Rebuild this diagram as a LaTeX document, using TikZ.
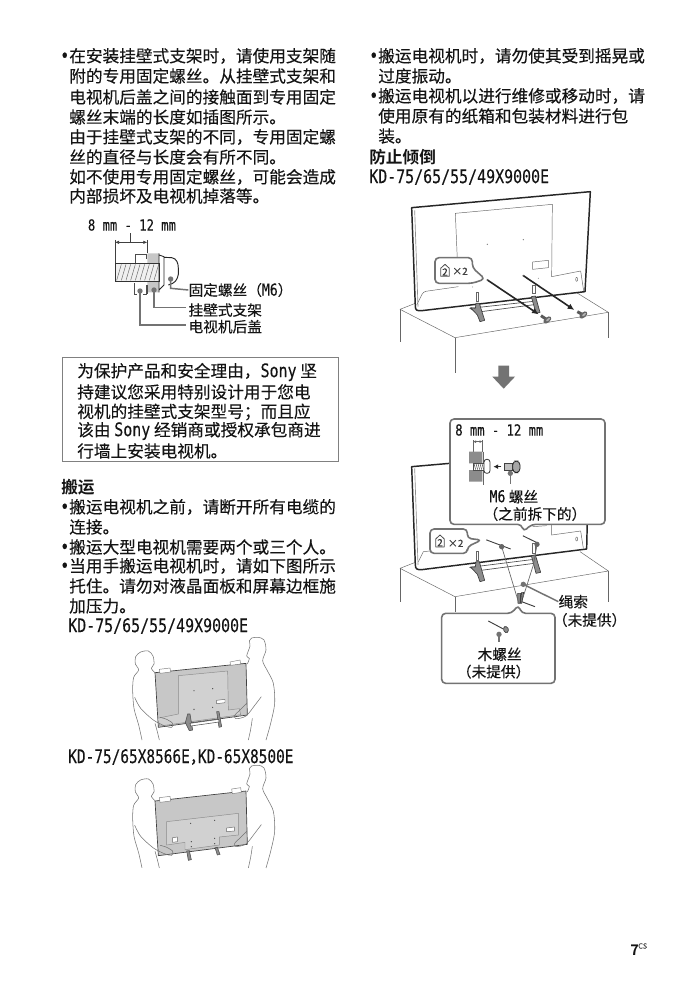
\documentclass[tikz,border=0pt]{standalone}
\usepackage{fontspec}
\setmainfont[FakeBold=0.2,BoldFont={Noto Sans CJK SC Bold},BoldFeatures={FakeBold=0}]{Noto Sans CJK SC}
\newfontfamily\latfont[FakeStretch=0.8,Scale=1.12,FakeBold=0.2]{DejaVu Sans Mono}
\newcommand{\lat}[1]{{\latfont #1}}
\newcommand{\zc}{\char"FF0C\relax}
\newcommand{\zs}{\char"FF1B\relax}
\newcommand{\zl}{\char"FF08\relax}
\newcommand{\zr}{\char"FF09\relax}
\definecolor{ink}{gray}{0.08}
\definecolor{midg}{gray}{0.45}
\definecolor{panelg}{gray}{0.78}
\usetikzlibrary{arrows.meta}
\tikzset{
  body/.style={anchor=west,inner sep=0pt,text=ink,font=\fontsize{12.5}{12.5}\selectfont},
  headline/.style={anchor=west,inner sep=0pt,text=ink,font=\fontsize{12.5}{12.5}\selectfont\bfseries},
  lab/.style={anchor=west,inner sep=0pt,text=ink,font=\fontsize{11}{11}\selectfont},
  dimlab/.style={anchor=west,inner sep=0pt,text=ink,font=\fontsize{10.2}{10.2}\selectfont},
  zoomed/.style={x=0.25pt,y=-0.25pt},
  leader/.style={draw=midg,line width=1.1pt},
  thin line/.style={draw=black!75,line width=0.4pt},
  callout/.style={draw=midg,line width=1.2pt,fill=white,line join=round},
  bigarrow/.style={draw=black!85,line width=1.2pt,-{Latex[length=5pt,width=4.5pt]}},
  hair/.style={draw=black!60,line width=0.35pt},
  body line/.style={draw=black!55,line width=0.4pt,smooth},
  metal/.style={draw=black!75,fill=black!45,line width=.5pt,line join=round},
}
% persons carrying the set, coordinates of the 3x crop
\newcommand{\carriers}{%
  \draw[body line] plot coordinates {(66,300)(56,255)(42,205)(38,150)(41,112)(56,90)(46,72)(47,50)(62,36)(85,33)(99,48)(102,72)(94,85)(105,98)};
  \draw[body line] plot coordinates {(44,172)(62,205)(100,240)(135,258)(155,262)(158,250)(140,238)(120,232)};
  \draw[body line] plot coordinates {(105,250)(112,275)(118,300)};
  \draw[body line] plot coordinates {(438,300)(452,250)(464,190)(460,130)(442,92)(428,62)(438,30)(432,0)(415,-8)(395,-6)(388,2)(390,18)(380,48)(388,55)(382,72)};
  \draw[body line] plot coordinates {(424,170)(405,195)(378,228)(348,236)(344,226)(358,212)(380,190)};
  \draw[body line] plot coordinates {(397,235)(392,268)(385,300)};
}
\newcommand{\housemark}[2]{% icon with 2 inside
  \draw[draw=black!70,line width=.6pt,line join=round] (#1-13,#2+16)--(#1-13,#2-8)--(#1,#2-20)--(#1+13,#2-8)--(#1+13,#2+16)--cycle;
  \node[inner sep=0pt,text=black!80,font=\fontsize{7.5}{7.5}\selectfont] (icon#1) at (#1,#2+3) {2};
}
% screw: shaft start, head centre
\newcommand{\screwat}[4]{%
  \draw[draw=black!65,line width=2.2pt] (#1,#2)--(#3,#4);
  \fill[black!60] (#3,#4) ellipse [x radius=8,y radius=14,rotate=-50];
  \fill[black!30] (#3+2,#4-1) ellipse [x radius=3,y radius=7,rotate=-50];
}
\begin{document}
\begin{tikzpicture}[x=0.75pt,y=-0.75pt]
\useasboundingbox (0,0) rectangle (699,994);
\fill[white] (0,0) rectangle (699,994);
% left column text
\node[body] (t1) at (60,56) {\lat{•}在安装挂壁式支架时\zc 请使用支架随};
\node[body] (t2) at (69,76) {附的专用固定螺丝。从挂壁式支架和};
\node[body] (t3) at (69,97) {电视机后盖之间的接触面到专用固定};
\node[body] (t4) at (69,117) {螺丝末端的长度如插图所示。};
\node[body] (t5) at (69,137) {由于挂壁式支架的不同\zc 专用固定螺};
\node[body] (t6) at (69,157) {丝的直径与长度会有所不同。};
\node[body] (t7) at (69,177) {如不使用专用固定螺丝\zc 可能会造成};
\node[body] (t8) at (69,196) {内部损坏及电视机掉落等。};
% notice box
\draw[draw=black!50,line width=.7pt] (62,357) rectangle (338,461);
\node[body] (b1) at (77,372) {为保护产品和安全理由\zc\lat{Sony} 坚};
\node[body] (b2) at (77,392) {持建议您采用特别设计用于您电};
\node[body] (b3) at (77,412) {视机的挂壁式支架型号\zs 而且应};
\node[body] (b4) at (77,431) {该由 \lat{Sony} 经销商或授权承包商进};
\node[body] (b5) at (77,451) {行墙上安装电视机。};
% transport
\node[headline] (h1) at (61,487) {搬运};
\node[body] (m1) at (60,507) {\lat{•}搬运电视机之前\zc 请断开所有电缆的};
\node[body] (m2) at (69,527) {连接。};
\node[body] (m3) at (60,547) {\lat{•}搬运大型电视机需要两个或三个人。};
\node[body] (m4) at (60,566) {\lat{•}当用手搬运电视机时\zc 请如下图所示};
\node[body] (m5) at (69,586) {托住。请勿对液晶面板和屏幕边框施};
\node[body] (m6) at (69,606) {加压力。};
\node[body] (m7) at (68,626) {\lat{KD-75/65/55/49X9000E}};
\node[body,xscale=0.966,transform shape] (m8) at (68,757) {\lat{KD-75/65X8566E}\zc\kern-6.2pt\lat{KD-65X8500E}};
% right column text
\node[body] (r1) at (369,56) {\lat{•}搬运电视机时\zc 请勿使其受到摇晃或};
\node[body] (r2) at (378,76) {过度振动。};
\node[body] (r3) at (369,96) {\lat{•}搬运电视机以进行维修或移动时\zc 请};
\node[body] (r4) at (378,116) {使用原有的纸箱和包装材料进行包};
\node[body] (r5) at (378,136) {装。};
\node[headline] (r6) at (369,157) {防止倾倒};
\node[body] (r7) at (369,177) {\lat{KD-75/65/55/49X9000E}};
% page number
\node[anchor=west,inner sep=0pt,text=ink,font=\fontsize{11}{11}\selectfont\bfseries] (pg) at (630,950) {7};
\node[anchor=west,inner sep=0pt,text=black!70,font=\fontsize{5.5}{5.5}\selectfont] (pgcs) at (638,946) {CS};

% ---- screw detail
\begin{scope}[shift={(60,205)},zoomed]
  \node[dimlab] (d1) at (83,60) {\lat{8 mm - 12 mm}};
  \draw[thin line] (165,105)--(165,175) (262,105)--(262,145) (212,85)--(212,112);
  \draw[thin line,{Latex[length=3pt,width=2.5pt]}-{Latex[length=3pt,width=2.5pt]}] (165,112)--(262,112);
  \fill[black!22] (262,145) rectangle (297,175) (262,228) rectangle (297,262);
  \fill[black!6] (165,175) rectangle (297,228);
  \foreach \i in {170,184,...,282} \draw[hair] (\i+14,178)--(\i,226);
  \draw[draw=black!80,line width=.6pt] (165,175) rectangle (297,228);
  \draw[draw=black!70,line width=.5pt] (225,175)--(225,147)--(258,147)--(258,160)--(262,160);
  \draw[draw=black!70,line width=.5pt] (222,235)--(222,268)--(230,268) (250,268)--(258,268)--(258,240) (262,240)--(262,268);
  \draw[draw=black!85,line width=.6pt] (297,145)--(297,262) (297,150)--(312,155)--(312,240)--(297,255);
  \draw[draw=black!85,line width=.7pt,line join=round] (312,157) -- (335,158) .. controls (350,160) and (355,175) .. (355,190) -- (355,208) .. controls (352,225) and (345,235) .. (325,240);
  \node[lab] (l1) at (385,255) {固定螺丝\zl\lat{M6}\zr};
  \node[lab] (l2) at (385,315) {挂壁式支架};
  \node[lab] (l3) at (385,365) {电视机后盖};
  \fill[midg] (332,222) circle (8) (282,255) circle (8) (240,258) circle (8);
  \draw[leader] (332,222)--(332,250)--(l1.west);
  \draw[leader] (282,255)--(282,308)--(378,308);
  \draw[leader] (240,258)--(240,360)--(378,360);
\end{scope}

% ---- TV on table, top figure
\begin{scope}[shift={(390,195)},zoomed]
  \draw[hair] (30,343)--(76,325) (30,343)--(195,428)--(655,352)--(555,290);
  \draw[hair] (30,343)--(30,440) (195,428)--(195,535) (655,352)--(655,430);
  \draw[fill=white,draw=black!85,line width=1.1pt,line join=round] (65,38)--(601,-10)--(585,290)--(95,347) .. controls (82,348) and (76,346) .. (76,335)--cycle;
  \draw[draw=black!45,line width=.5pt] (74,46)--(84,335);
  \draw[hair,line join=round] (205,265)--(196,55)--(487,28)--(485,245)--(572,228)--(581,288);
  \draw[hair,rounded corners=2pt] (205,275)--(100,290)--(80,330);
  \draw[hair] (428,201)--(475,196)--(475,218)--(428,223)--cycle;
  \draw[hair] (560,253) ellipse (3 and 6);
  \draw[hair] (258,292) rectangle (265,318) (428,270) rectangle (436,296);
  \fill[black!50] (292,148) circle (2.2) (400,134) circle (2.2) (445,250) circle (1.5) (248,276) circle (1.5);
  % stand
  \draw[draw=black!70,fill=white,line width=.5pt] (240,340)--(440,318)--(440,328)--(258,352)--cycle;
  \draw[metal] (258,325)--(268,325)--(284,376)--(270,380)--(262,360)--(242,338)--(256,340)--cycle;
  \draw[metal] (424,305)--(436,303)--(450,352)--(438,355)--cycle;
  % arrows & screws
  \draw[bigarrow] (292,255)--(446,358);
  \draw[bigarrow] (400,242)--(553,345);
  \fill[black!65] (292,255) circle (3) (400,242) circle (3);
  \screwat{453}{362}{472}{375}
  \screwat{562}{350}{580}{360}
  % callout
  \draw[callout,rounded corners=3pt] (135,188)--(247,188)--(247,218)--(285,252)--(247,265)--(135,265)--cycle;
  \housemark{165}{228}
  \node[inner sep=0pt,text=black!75,font=\fontsize{7.5}{7.5}\selectfont] (x2a) at (210,229) {×2};
  % down arrow
  \fill[black!55] (325,512)--(357,512)--(357,545)--(375,545)--(341,581)--(307,545)--(325,545)--cycle;
\end{scope}

% ---- TV on table, lower figure
\begin{scope}[shift={(390,405)},zoomed]
  \draw[hair] (30,490)--(76,472) (30,490)--(195,575)--(655,498)--(570,440);
  \draw[hair] (30,490)--(30,590) (195,575)--(195,620) (655,498)--(655,590);
  \draw[fill=white,draw=black!85,line width=1.1pt,line join=round] (180,175)--(65,185)--(76,480) .. controls (76,492) and (82,495) .. (95,494)--(590,432)--(592,340);
  \draw[draw=black!45,line width=.5pt] (74,190)--(84,480);
  \draw[hair] (485,358)--(485,390)--(572,378)--(580,430);
  \draw[hair] (100,440)--(85,470) (100,440)--(120,438);
  \draw[hair] (428,365)--(470,362);
  \draw[hair] (560,402) ellipse (3 and 6);
  \draw[hair] (258,440) rectangle (265,466) (428,415) rectangle (436,445);
  % stand
  \draw[draw=black!70,fill=white,line width=.5pt] (240,487)--(440,462)--(440,474)--(258,498)--cycle;
  \draw[metal] (258,470)--(268,470)--(284,526)--(270,530)--(262,508)--(242,486)--(256,486)--cycle;
  \draw[metal] (424,452)--(436,450)--(452,502)--(438,505)--cycle;
  % screws, rope
  \draw[draw=black!75,line width=.7pt] (290,405)--(362,432) (400,393)--(445,415);
  \draw[draw=black!60,line width=.5pt] (335,425)--(385,590) (441,420)--(430,480)--(395,590);
  \fill[black!60] (335,425) circle (8) (441,418) circle (8) (290,405) circle (2) (400,393) circle (2);
  \draw[metal] (383,565)--(392,565)--(390,595)--(384,595)--cycle (395,562)--(401,562)--(395,595)--(391,595)--cycle;
  \draw[draw=black!75,line width=.7pt] (395,590)--(435,605);
  % small callout
  \draw[callout,rounded corners=3pt] (120,372)--(232,372)--(232,400)--(275,405)--(232,425)--(232,445)--(120,445)--cycle;
  \housemark{150}{410}
  \node[inner sep=0pt,text=black!75,font=\fontsize{7.5}{7.5}\selectfont] (x2b) at (197,415) {×2};
  % big callout
  \draw[callout,rounded corners=3pt] (180,42)--(645,42)--(645,358)--(425,358)--(400,380)--(395,358)--(180,358)--cycle;
  \node[dimlab] (d2) at (195,75) {\lat{8 mm - 12 mm}};
  \draw[hair] (250,105)--(250,140) (277,105)--(277,140);
  \draw[hair,{Latex[length=2pt,width=2pt]}-{Latex[length=2pt,width=2pt]}] (250,110)--(277,110);
  \fill[black!45] (237,140) rectangle (277,175) (237,195) rectangle (277,230);
  \draw[hair,line width=.6pt] (280,140)--(280,240);
  \draw[draw=black!70,fill=white,line width=.5pt] (250,175) rectangle (282,195);
  \foreach \i in {252,258,...,276} \draw[draw=black!70,line width=.4pt] (\i,176)--(\i+5,194);
  \draw[draw=black!80,fill=white,line width=.6pt,rounded corners=2pt] (282,163) rectangle (300,205);
  \draw[draw=black!85,line width=.8pt,-{Latex[length=3.5pt,width=3.5pt]}] (334,185)--(310,185);
  \draw[draw=black!75,fill=black!25,line width=.5pt] (343,175) rectangle (368,195);
  \draw[draw=black!85,fill=black!35,line width=.6pt,rounded corners=3pt] (368,168) rectangle (390,203);
  \fill[midg] (361,205) circle (8);
  \draw[leader] (361,205)--(361,238);
  \node[lab] (m6a) at (298,275) {\lat{M6} 螺丝};
  \node[lab] (m6b) at (280,327) {\zl 之前拆下的\zr};
  % rope label
  \node[lab] (rp1) at (505,590) {绳索};
  \node[lab] (rp2) at (488,645) {\zl 未提供\zr};
  \fill[midg] (400,538) circle (8);
  \draw[leader] (400,538)--(rp1.west);
  % lower callout
  \draw[callout,rounded corners=3pt] (155,625)--(365,625)--(385,600)--(395,625)--(495,625)--(495,835)--(155,835)--cycle;
  \draw[draw=black!75,line width=.7pt] (295,648)--(340,672);
  \draw[metal,rounded corners=2pt] (338,668)--(350,662)--(358,678)--(346,686)--cycle;
  \fill[midg] (327,688) circle (8);
  \draw[leader] (327,688)--(327,710);
  \node[lab] (w1) at (262,748) {木螺丝};
  \node[lab] (w2) at (200,800) {\zl 未提供\zr};
\end{scope}

% ---- carrying, 9000E
\begin{scope}[shift={(120,640)},zoomed]
  \draw[fill=panelg,draw=black!75,line width=.5pt,line join=round] (105,98)--(378,70)--(382,225)--(115,262)--cycle;
  \draw[fill=black!18,draw=black!45,line width=.35pt] (175,107)--(323,93)--(325,210)--(358,206)--(362,224)--(120,258)--(112,235)--(175,222)--cycle;
  \draw[fill=white,draw=black!50,line width=.35pt] (118,88)--(150,84)--(152,96)--(120,100)--cycle (330,66)--(360,60)--(362,72)--(332,76)--cycle;
  \draw[draw=black!60,fill=white,line width=.35pt] (290,181)--(315,178)--(315,188)--(290,191)--cycle;
  \fill[black!70] (222,152) circle (2) (278,146) circle (2) (222,208) circle (2) (278,202) circle (2);
  \draw[draw=black!70,fill=black!45,line width=.4pt] (203,222)--(210,222)--(218,270)--(208,272)--(196,248)--cycle (290,215)--(297,215)--(305,260)--(297,262)--cycle;
  \draw[draw=black!70,fill=white,line width=.4pt] (210,250)--(296,238)--(297,246)--(212,258)--cycle;
  \carriers
\end{scope}

% ---- carrying, X8566E
\begin{scope}[shift={(120,765)},zoomed]
  \draw[fill=panelg,draw=black!75,line width=.5pt,line join=round] (105,108)--(378,78)--(382,238)--(115,272)--cycle;
  \draw[fill=black!18,draw=black!45,line width=.35pt] (140,170)--(355,145)--(355,210)--(298,216)--(298,240)--(195,254)--(195,232)--(140,240)--cycle;
  \draw[fill=white,draw=black!50,line width=.35pt] (118,98)--(150,94)--(152,108)--(120,112)--cycle (335,72)--(362,68)--(364,82)--(337,86)--cycle;
  \draw[draw=black!60,fill=white,line width=.35pt] (320,189)--(343,186)--(343,198)--(320,200)--cycle (158,218)--(172,216)--(172,230)--(158,232)--cycle;
  \fill[black!70] (212,175) circle (2) (284,166) circle (2) (214,230) circle (2) (214,245) circle (2) (284,220) circle (2) (284,236) circle (2);
  \draw[draw=black!70,fill=black!45,line width=.4pt] (200,258)--(208,257)--(214,284)--(205,286)--cycle (285,248)--(292,247)--(300,268)--(292,270)--cycle;
  \begin{scope}[yshift=-2.2pt]\carriers\end{scope}
\end{scope}
\end{tikzpicture}
\end{document}
